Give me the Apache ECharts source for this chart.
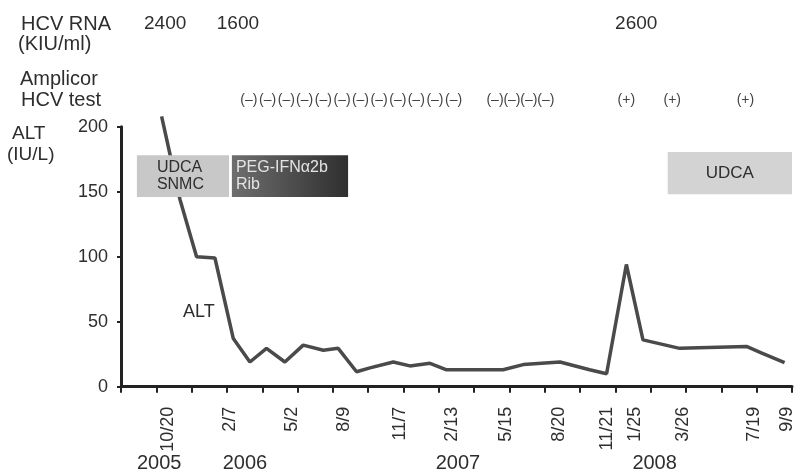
<!DOCTYPE html>
<html>
<head>
<meta charset="utf-8">
<script src="https://cdn.jsdelivr.net/npm/echarts@6/dist/echarts.min.js"></script>
<style>
  html, body { margin: 0; padding: 0; background: #fff; }
  #chart { width: 794px; height: 473px; }
</style>
</head>
<body>
<div id="chart"></div>
<script>
// x positions are in tick units (0..19): the scanned axis is not linear in time
const tickX = [0, 1, 2, 3, 4, 5, 6, 7, 8, 9, 10, 11, 12, 13, 14, 15, 16, 17, 18, 19];

const dateX = [1.34, 3.10, 4.83, 6.31, 7.90, 9.38, 10.89, 12.40, 13.75, 14.55, 15.92, 17.92, 18.87];
const dateLabels = ['10/20', '2/7', '5/2', '8/9', '11/7', '2/13', '5/15', '8/20', '11/21', '1/25', '3/26', '7/19', '9/9'];

const yearX = [1.08, 3.51, 9.54, 15.11];
const yearLabels = ['2005', '2006', '2007', '2008'];

const rnaX = [1.25, 3.31, 14.59];
const rnaValues = ['2400', '1600', '2600'];

const testX = [3.62, 4.15, 4.68, 5.20, 5.73, 6.26, 6.78, 7.31, 7.84, 8.36, 8.89, 9.42,
  10.59, 11.07, 11.55, 12.03, 14.31, 15.61, 17.68];
const testResults = ['(–)', '(–)', '(–)', '(–)', '(–)', '(–)', '(–)', '(–)', '(–)', '(–)', '(–)', '(–)',
  '(–)', '(–)', '(–)', '(–)', '(+)', '(+)', '(+)'];

const altX = [1.15, 1.67, 2.14, 2.66, 3.18, 3.65, 4.12, 4.64, 5.16, 5.73, 6.15, 6.67, 7.05, 7.71,
  8.18, 8.75, 9.22, 10.82, 11.39, 12.43, 13.27, 13.75, 14.31, 14.78, 15.82, 17.71, 18.13, 18.79];
const altY = [208, 144, 100, 99, 37, 19, 29.5, 19, 32, 28, 29.5, 11.5, 14.5, 19,
  16, 18, 13, 13, 17, 19, 13, 10, 94, 36, 29.5, 31, 26, 18.5];

// treatment periods
const boxStart = [0.45, 3.14, 15.48];
const boxEnd = [3.06, 6.43, 19];
const boxTop = [178, 178, 180.5];
const boxBottom = [146, 146, 148];
const boxText = ['UDCA\nSNMC', 'PEG-IFNα2b\nRib', 'UDCA'];

const FONT = '"Liberation Sans", Arial, sans-serif';
const INK = '#2e2e2e';

function pick(xs, labels) {
  return function (v) {
    const i = xs.findIndex(x => Math.abs(x - v) < 1e-6);
    return i < 0 ? '' : labels[i];
  };
}

const boxFill = [
  '#c8c8c8',
  new echarts.graphic.LinearGradient(0, 0, 1, 0, [
    { offset: 0, color: '#6e6e6e' },
    { offset: 1, color: '#2f2f2f' }
  ]),
  '#d3d3d3'
];
const boxInk = [INK, '#e4e4e4', INK];

const chart = echarts.init(document.getElementById('chart'));

const hidden = { show: false };
const baseX = { type: 'value', min: 0, max: 19, interval: 1, splitLine: hidden };

chart.setOption({
  animation: false,
  backgroundColor: '#fff',
  textStyle: { fontFamily: FONT },
  grid: { left: 121, right: 2, top: 126.7, bottom: 86.3, outerBoundsMode: 'none' },
  xAxis: [
    Object.assign({}, baseX, {
      position: 'bottom',
      axisLine: { show: true, lineStyle: { color: '#222', width: 3 } },
      axisTick: { show: true, customValues: tickX, length: 6, lineStyle: { color: '#222', width: 2 } },
      axisLabel: {
        customValues: dateX, formatter: pick(dateX, dateLabels), rotate: 90,
        fontSize: 18, color: INK, margin: 20, hideOverlap: false, fontFamily: FONT
      }
    }),
    Object.assign({}, baseX, {
      position: 'top',
      axisLine: hidden, axisTick: hidden,
      axisLabel: {
        customValues: rnaX, formatter: pick(rnaX, rnaValues), fontSize: 19, color: INK,
        margin: 102.7, verticalAlign: 'middle', hideOverlap: false, fontFamily: FONT
      }
    }),
    Object.assign({}, baseX, {
      position: 'top',
      axisLine: hidden, axisTick: hidden,
      axisLabel: {
        customValues: testX, formatter: pick(testX, testResults), fontSize: 14, color: '#444',
        margin: 26.7, verticalAlign: 'middle', hideOverlap: false, fontFamily: FONT
      }
    }),
    Object.assign({}, baseX, {
      position: 'bottom',
      axisLine: hidden, axisTick: hidden,
      axisLabel: {
        customValues: yearX, formatter: pick(yearX, yearLabels), fontSize: 20, color: INK,
        margin: 77, verticalAlign: 'middle', hideOverlap: false, fontFamily: FONT
      }
    })
  ],
  yAxis: {
    type: 'value', min: 0, max: 200, interval: 50,
    axisLine: { show: true, lineStyle: { color: '#222', width: 3 } },
    axisTick: { show: true, length: 4, lineStyle: { color: '#222', width: 2 } },
    axisLabel: { fontSize: 18, color: INK, margin: 13, fontFamily: FONT },
    splitLine: hidden
  },
  graphic: [
    { type: 'text', left: 21, top: 14, style: { text: 'HCV RNA', font: '20px ' + FONT, fill: INK } },
    { type: 'text', left: 18, top: 34, style: { text: '(KIU/ml)', font: '20px ' + FONT, fill: INK } },
    { type: 'text', left: 20, top: 69, style: { text: 'Amplicor', font: '20px ' + FONT, fill: INK } },
    { type: 'text', left: 21, top: 90, style: { text: 'HCV test', font: '20px ' + FONT, fill: INK } },
    { type: 'text', left: 12, top: 124, style: { text: 'ALT', font: '19px ' + FONT, fill: INK } },
    { type: 'text', left: 7, top: 145, style: { text: '(IU/L)', font: '19px ' + FONT, fill: INK } },
    { type: 'text', left: 183, top: 303, style: { text: 'ALT', font: '18px ' + FONT, fill: INK } }
  ],
  series: [
    {
      name: 'ALT', type: 'line', xAxisIndex: 0, yAxisIndex: 0,
      data: altX.map((x, i) => [x, altY[i]]),
      symbol: 'none', clip: false, z: 2,
      lineStyle: { color: '#4a4a4a', width: 3.5 }
    },
    {
      type: 'custom', xAxisIndex: 0, yAxisIndex: 0, z: 5,
      data: boxStart.map((s, i) => [s, boxEnd[i], boxTop[i], boxBottom[i]]),
      encode: { x: [0, 1], y: [2, 3] },
      renderItem: function (params, api) {
        const i = params.dataIndex;
        const p0 = api.coord([api.value(0), api.value(2)]);
        const p1 = api.coord([api.value(1), api.value(3)]);
        const w = p1[0] - p0[0], h = p1[1] - p0[1];
        const centred = i === 2;
        return {
          type: 'group',
          children: [
            { type: 'rect', shape: { x: p0[0], y: p0[1], width: w, height: h }, style: { fill: boxFill[i] } },
            {
              type: 'text',
              style: {
                text: boxText[i],
                x: centred ? p0[0] + w / 2 : p0[0] + (i === 0 ? 20 : 4),
                y: p0[1] + h / 2,
                align: centred ? 'center' : 'left',
                verticalAlign: 'middle',
                font: (centred ? 17 : 16) + 'px ' + FONT,
                lineHeight: 17,
                fill: boxInk[i]
              }
            }
          ]
        };
      }
    }
  ]
});
</script>
</body>
</html>
